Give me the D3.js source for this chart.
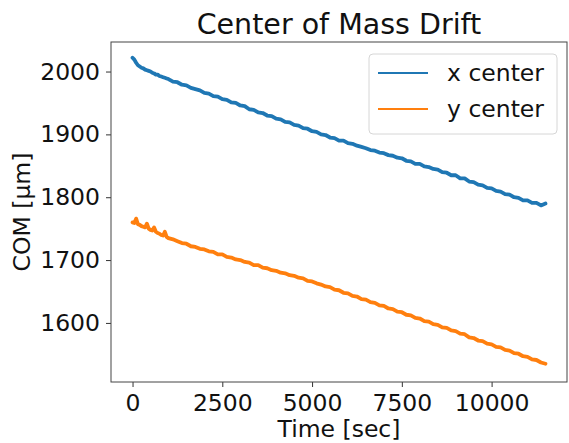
<!DOCTYPE html>
<html><head><meta charset="utf-8">
<script src="https://cdn.jsdelivr.net/npm/d3@7"></script>
<style>html,body{margin:0;padding:0;background:#fff;}svg{display:block;font-family:"DejaVu Sans",sans-serif;}</style>
</head><body><svg id="c" width="569" height="443"></svg>
<script>
const times = [0,50,100,150,200,250,300,350,400,450,500,550,600,650,700,750,800,850,900,950,1000,
  1125,1250,1375,1500,1625,1750,1875,2000,2125,2250,2375,2500,2625,2750,2875,3000,3125,3250,3375,3500,3625,3750,3875,4000,4125,4250,4375,4500,4625,4750,4875,5000,5125,5250,5375,5500,5625,5750,5875,6000,6125,6250,6375,6500,6625,6750,6875,7000,7125,7250,7375,7500,7625,7750,7875,8000,8125,8250,8375,8500,8625,8750,8875,9000,9125,9250,9375,9500,9625,9750,9875,10000,10125,10250,10375,10500,10625,10750,10875,11000,11125,11250,11375,11500];
const xCenter = [2022,2019,2014,2010,2008,2006,2005,2003,2002,2001,2000,1998,1997,1995,1995,1993,1992,1991,1990,1989,1988,
  1984,1983,1979,1978,1974,1972,1970,1966,1965,1961,1960,1956,1955,1951,1950,1946,1945,1940,1939,1935,1934,1930,1929,1925,1924,1920,1919,1915,1914,1910,1909,1905,1904,1900,1899,1895,1894,1890,1890,1886,1885,1882,1880,1878,1875,1874,1871,1870,1867,1866,1863,1862,1858,1857,1853,1853,1849,1848,1845,1844,1840,1839,1835,1835,1830,1830,1825,1824,1820,1819,1815,1814,1810,1809,1805,1804,1800,1799,1795,1795,1791,1791,1787,1790];
const yCenter = [1760,1759,1766,1757,1756,1754,1753,1752,1758,1750,1748,1747,1752,1745,1743,1742,1740,1739,1745,1737,1735,
  1733,1730,1727,1726,1722,1721,1718,1717,1714,1713,1709,1709,1705,1704,1701,1700,1697,1696,1692,1692,1688,1687,1684,1683,1680,1679,1676,1675,1672,1671,1667,1666,1663,1661,1658,1657,1653,1652,1648,1647,1643,1642,1638,1637,1633,1632,1628,1627,1623,1622,1618,1617,1613,1612,1608,1607,1603,1602,1598,1597,1593,1592,1588,1587,1583,1582,1577,1576,1572,1571,1567,1566,1562,1561,1557,1556,1552,1551,1547,1546,1542,1541,1537,1535];
const seriesNames = ["x center", "y center"];
const colors = ["#1f77b4", "#ff7f0e"];
const xTicks = [0, 2500, 5000, 7500, 10000];
const yTicks = [1600, 1700, 1800, 1900, 2000];

const svg = d3.select("#c");
const L = 111, R = 567, T = 42, B = 382;
const FS = 23.5;
const x = d3.scaleLinear().domain([-600, 12100]).range([L, R]);
const y = d3.scaleLinear().domain([1506, 2047]).range([B, T]);

const g = svg.append("g");
const line = d3.line().x((d, i) => x(times[i])).y(d => y(d));
[xCenter, yCenter].forEach((s, k) => {
  g.append("path").datum(s).attr("d", line).attr("fill", "none")
   .attr("stroke", colors[k]).attr("stroke-width", 3.8)
   .attr("stroke-linejoin", "round").attr("stroke-linecap", "round");
});

const xa = svg.append("g").attr("transform", `translate(0,${B})`)
  .call(d3.axisBottom(x).tickValues(xTicks).tickSize(5).tickPadding(7).tickFormat(d3.format("d")));
const ya = svg.append("g").attr("transform", `translate(${L},0)`)
  .call(d3.axisLeft(y).tickValues(yTicks).tickSize(5).tickPadding(6).tickFormat(d3.format("d")));
[xa, ya].forEach(a => {
  a.select(".domain").remove();
  a.selectAll("line").attr("stroke", "#333").attr("stroke-width", 1);
  a.selectAll("text").attr("font-size", FS).attr("fill", "#111").attr("font-family", "DejaVu Sans");
});

svg.append("rect").attr("x", L).attr("y", T).attr("width", R - L).attr("height", B - T)
  .attr("fill", "none").attr("stroke", "#444").attr("stroke-width", 1);

svg.append("text").attr("x", (L + R) / 2).attr("y", 34).attr("text-anchor", "middle")
  .attr("font-size", 28.5).attr("fill", "#111").text("Center of Mass Drift");
svg.append("text").attr("x", (L + R) / 2).attr("y", 437).attr("text-anchor", "middle")
  .attr("font-size", FS).attr("fill", "#111").text("Time [sec]");
svg.append("text").attr("transform", `translate(30,${(T + B) / 2}) rotate(-90)`).attr("text-anchor", "middle")
  .attr("font-size", FS).attr("fill", "#111").text("COM [µm]");

const lg = svg.append("g");
lg.append("rect").attr("x", 369).attr("y", 54).attr("width", 188).attr("height", 80).attr("rx", 4)
  .attr("fill", "#fff").attr("fill-opacity", 0.8).attr("stroke", "#d6d6d6").attr("stroke-width", 1);
seriesNames.forEach((n, k) => {
  const yy = 73 + k * 36;
  lg.append("line").attr("x1", 378).attr("x2", 428).attr("y1", yy).attr("y2", yy)
    .attr("stroke", colors[k]).attr("stroke-width", 2);
  lg.append("text").attr("x", 447).attr("y", yy + 8).attr("font-size", FS).attr("fill", "#111").text(n);
});
</script></body></html>
